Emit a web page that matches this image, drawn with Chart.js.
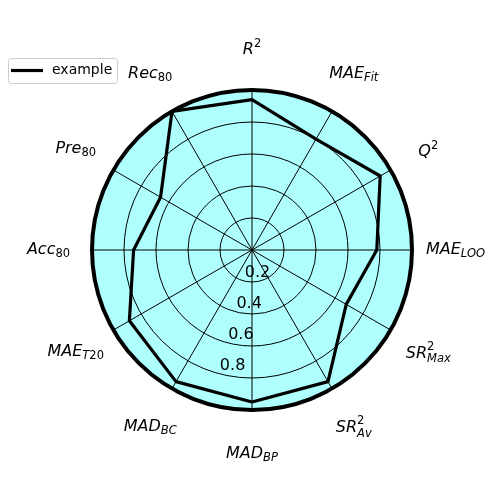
<!DOCTYPE html>
<html><head><meta charset="utf-8">
<script src="https://cdn.jsdelivr.net/npm/chart.js@4"></script>
<style>html,body{margin:0;padding:0;background:#fff}</style>
</head><body>
<canvas id="c" width="500" height="500"></canvas>
<script>
// ---- data ----
const labelMain = ['R','MAE','Q','MAE','SR','SR','MAD','MAD','MAE','Acc','Pre','Rec'];
const labelSub  = ['','Fit','','LOO','Max','Av','BP','BC','T20','80','80','80'];
const labelSup  = ['2','','2','','2','2','','','','','',''];
const seriesName = 'example';
const seriesValues = [0.94,0.80,0.925,0.78,0.68,0.95,0.95,0.95,0.885,0.74,0.66,1.0];
const tickValues = [0.2,0.4,0.6,0.8];
const tickLabels = ['0.2','0.4','0.6','0.8'];

const categories = labelMain.map((m,i)=>m+(labelSub[i]?'_'+labelSub[i]:'')+(labelSup[i]?'^'+labelSup[i]:''));

const FONT = '"DejaVu Sans", sans-serif';
function segs(text){
  const out=[];
  for(const ch of text){
    const it=/[A-Za-z]/.test(ch);
    if(out.length && out[out.length-1].it===it) out[out.length-1].t+=ch;
    else out.push({t:ch,it});
  }
  return out;
}
function runWidth(ctx,text,size){
  let w=0;
  for(const s of segs(text)){ctx.font=(s.it?'italic ':'')+size+'px '+FONT;w+=ctx.measureText(s.t).width;}
  return w;
}
function drawRun(ctx,text,x,y,size){
  for(const s of segs(text)){ctx.font=(s.it?'italic ':'')+size+'px '+FONT;ctx.fillText(s.t,x,y);x+=ctx.measureText(s.t).width;}
  return x;
}

const decor = {
  id:'decor',
  afterDraw(chart){
    const ctx=chart.ctx, r=chart.scales.r;
    ctx.save();
    ctx.fillStyle='#000';
    ctx.textAlign='left';
    ctx.textBaseline='alphabetic';
    // point labels (mathtext-like)
    const MAIN=16, SMALL=11.5;
    for(let i=0;i<labelMain.length;i++){
      const main=labelMain[i], sub=labelSub[i], sup=labelSup[i];
      const wMain=runWidth(ctx,main,MAIN);
      const wSub=sub?runWidth(ctx,sub,SMALL):0;
      const wSup=sup?runWidth(ctx,sup,SMALL):0;
      const w=wMain+Math.max(wSub,wSup);
      const supRaise=sub?8:6.5, subDrop=sup?4.5:3;
      const top=sup?-(supRaise+0.73*SMALL):-0.73*MAIN;
      const bottom=sub?subDrop:0;
      const p=r.getPointPosition(i,r.drawingArea*1.272);
      const x0=p.x-w/2, base=p.y-(top+bottom)/2;
      drawRun(ctx,main,x0,base,MAIN);
      if(sup) drawRun(ctx,sup,x0+wMain,base-supRaise,SMALL);
      if(sub) drawRun(ctx,sub,x0+wMain,base+subDrop,SMALL);
    }
    // radial tick labels
    ctx.font='16px '+FONT;
    const ang=195*Math.PI/180;
    tickValues.forEach((v,k)=>{
      const d=r.getDistanceFromCenterForValue(v);
      ctx.fillText(tickLabels[k], r.xCenter+Math.sin(ang)*d+1, r.yCenter-Math.cos(ang)*d-4);
    });
    // legend
    const ds=chart.data.datasets[0];
    ctx.beginPath();
    ctx.roundRect(8.5,58.5,109,25,3);
    ctx.fillStyle='rgba(255,255,255,0.8)';
    ctx.fill();
    ctx.strokeStyle='#cccccc';
    ctx.lineWidth=1;
    ctx.stroke();
    ctx.beginPath();
    ctx.moveTo(11,70.5);ctx.lineTo(43,70.5);
    ctx.strokeStyle=ds.borderColor;ctx.lineWidth=ds.borderWidth;ctx.stroke();
    ctx.fillStyle='#000';
    ctx.font='14px '+FONT;
    ctx.textBaseline='middle';
    ctx.fillText(ds.label,52,70.5);
    ctx.restore();
  }
};

new Chart(document.getElementById('c'),{
  type:'radar',
  data:{
    labels:categories,
    datasets:[{
      label:seriesName,
      data:seriesValues,
      borderColor:'#000000',
      borderWidth:3.2,
      borderJoinStyle:'round',
      fill:false,
      pointRadius:0,
      pointHoverRadius:0,
      tension:0
    }]
  },
  options:{
    responsive:false,
    animation:false,
    devicePixelRatio:1,
    layout:{padding:{left:92,right:88,top:90,bottom:90}},
    plugins:{legend:{display:false},tooltip:{enabled:false}},
    scales:{
      r:{
        min:0,max:1,
        backgroundColor:'#b0ffff',
        ticks:{display:false,stepSize:0.2},
        pointLabels:{display:false},
        grid:{circular:true,color:'#000000',lineWidth:(c)=>(c.tick&&Math.abs(c.tick.value-1)<1e-6)?4:1},
        angleLines:{display:true,color:'#000000',lineWidth:1}
      }
    }
  },
  plugins:[decor]
});
</script>
</body></html>
